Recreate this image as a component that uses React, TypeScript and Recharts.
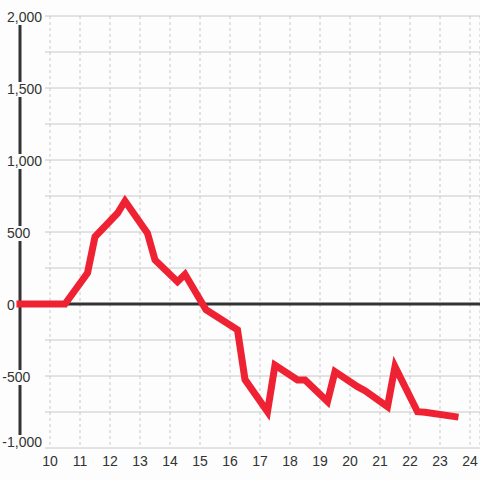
import React from 'react';
import { LineChart, Line, XAxis, YAxis, CartesianGrid, ReferenceLine } from 'recharts';

// x position (weeks) and balance values
const weeks = [9, 10.5, 11.25, 11.5, 12.25, 12.5, 13.25, 13.5, 14.25, 14.5, 15.2, 16.25, 16.5, 17.25, 17.5, 18.25, 18.5, 19.25, 19.5, 20.25, 20.5, 21.25, 21.5, 22.25, 22.5, 23.5];
const balance = [0, 0, 215, 467, 630, 715, 491, 306, 155, 206, -40, -180, -525, -748, -424, -528, -528, -678, -470, -574, -602, -713, -435, -748, -752, -782];

const xTicks = [10, 11, 12, 13, 14, 15, 16, 17, 18, 19, 20, 21, 22, 23, 24];
const yTicks = [-1000, -750, -500, -250, 0, 250, 500, 750, 1000, 1250, 1500, 1750, 2000];

const data = weeks.map((w, i) => ({ week: w, value: balance[i] }));

const X_MIN = 9;
const X_MAX = 24 + 1 / 3;
const GRID_START = 9 + 25 / 30; // horizontal rules begin right of the labels

const BG = '#fcfdfc';
const INK = '#333';
const FONT = '"Liberation Sans", Arial, sans-serif';

// rough glyph widths for 14px Liberation Sans
const charWidth = (c: string) => (c === ',' ? 3.9 : 7.8);

function YTick(props: any) {
  const { y, payload } = props;
  const v = payload.value;
  if (v % 500 !== 0) return <g />;
  const cy = Math.min(y, 441);
  const label = Math.abs(v).toLocaleString('en-US');
  const w = label.split('').reduce((s: number, c: string) => s + charWidth(c), 0);
  const left = v < 0 ? 7 - 4.7 : 7;
  return (
    <g>
      <rect x={left - 1} y={cy - 6} width={7 + w - left + 2} height={15} fill={BG} />
      {v < 0 && (
        <text x={7} y={cy} dy={6} textAnchor="end" fill={INK} fontSize={14} fontFamily={FONT}>
          -
        </text>
      )}
      <text x={7} y={cy} dy={6} textAnchor="start" fill={INK} fontSize={14} fontFamily={FONT}>
        {label}
      </text>
    </g>
  );
}

export default function App() {
  return (
    <div style={{ position: 'absolute', left: 0, top: 0, width: 480, height: 480, background: BG }}>
      <LineChart width={480} height={480} data={data} margin={{ top: 16, right: 0, bottom: 0, left: 0 }}>
        <CartesianGrid horizontal={false} stroke="#c8c8c8" strokeDasharray="3 3" />
        {yTicks.map((t) => (
          <ReferenceLine
            key={t}
            segment={[
              { x: GRID_START, y: t },
              { x: X_MAX, y: t },
            ]}
            stroke="#c8c8c8"
            strokeWidth={1}
          />
        ))}
        <XAxis
          type="number"
          dataKey="week"
          domain={[X_MIN, X_MAX]}
          ticks={xTicks}
          tickLine={false}
          axisLine={false}
          height={32}
          tick={{ fill: INK, fontSize: 14, fontFamily: FONT }}
        />
        <YAxis
          type="number"
          domain={[-1000, 2000]}
          ticks={yTicks}
          width={20}
          tickLine={false}
          axisLine={false}
          tick={(p: any) => <YTick {...p} />}
          interval={0}
        />
        <ReferenceLine x={X_MIN} stroke={INK} strokeWidth={3} />
        <ReferenceLine y={0} stroke={INK} strokeWidth={3} />
        <Line
          type="linear"
          dataKey="value"
          stroke="#ee2233"
          strokeWidth={7}
          strokeLinecap="square"
          strokeLinejoin="miter"
          dot={false}
          activeDot={false}
          isAnimationActive={false}
        />
      </LineChart>
    </div>
  );
}
